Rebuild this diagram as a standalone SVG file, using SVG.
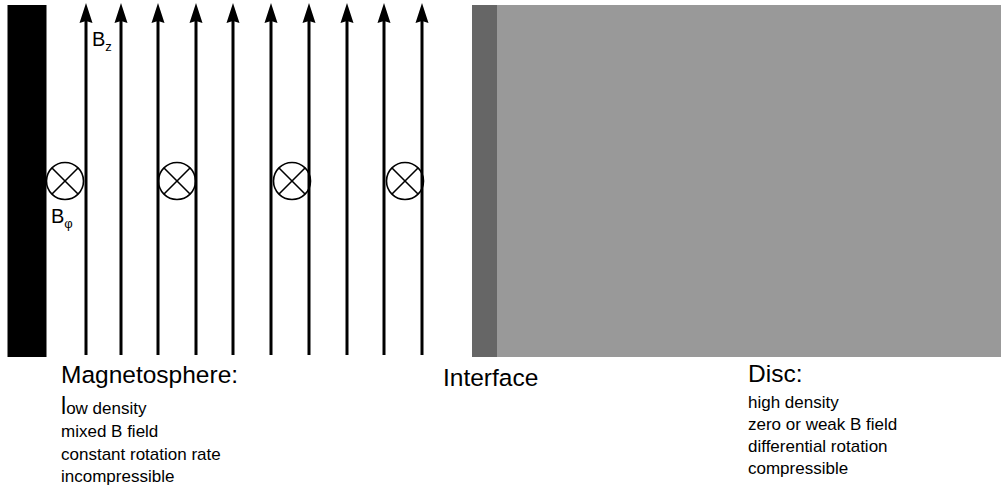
<svg xmlns="http://www.w3.org/2000/svg" width="1001" height="487" viewBox="0 0 1001 487">
  <style>
    text { font-family: "Liberation Sans", Arial, sans-serif; fill: #000; }
    .field { stroke: #000; stroke-width: 3; fill: none; marker-end: url(#head); }
    .toroidal { stroke: #000; stroke-width: 1.6; fill: none; }
    .title { font-size: 24.5px; }
    .item { font-size: 17px; }
    .sym { font-size: 20px; }
    .sub { font-size: 13px; }
  </style>
  <defs>
    <!-- arrowhead drawn along +x; the path's end sits at the notch -->
    <marker id="head" markerUnits="userSpaceOnUse" markerWidth="22" markerHeight="16" viewBox="0 0 22 16" refX="2" refY="8" orient="auto">
      <polygon points="0,1.5 20,8 0,14.5 2,8" fill="#000"/>
    </marker>
    <g id="crossed">
      <circle r="18.5" fill="#fff"/>
      <line x1="-13" y1="-13" x2="13" y2="13"/>
      <line x1="13" y1="-13" x2="-13" y2="13"/>
    </g>
  </defs>

  <rect width="1001" height="487" fill="#fff"/>

  <!-- central star surface -->
  <g id="star">
    <rect x="7.5" y="5" width="39" height="352" fill="#000"/>
  </g>

  <!-- interface layer and accretion disc -->
  <g id="interface">
    <rect x="472" y="5" width="25" height="352" fill="#666"/>
  </g>
  <g id="disc">
    <rect x="497" y="5" width="504" height="352" fill="#999"/>
  </g>

  <!-- toroidal field (into the page) -->
  <g id="toroidal-field" class="toroidal">
    <use href="#crossed" x="65" y="181"/>
    <use href="#crossed" x="177" y="181"/>
    <use href="#crossed" x="292" y="181"/>
    <use href="#crossed" x="405" y="181"/>
  </g>

  <!-- vertical poloidal field lines -->
  <g id="connectors">
    <path class="field" d="M86,355 V21"/>
    <path class="field" d="M121,355 V21"/>
    <path class="field" d="M158,355 V21"/>
    <path class="field" d="M196,355 V21"/>
    <path class="field" d="M233,355 V21"/>
    <path class="field" d="M271,355 V21"/>
    <path class="field" d="M309,355 V21"/>
    <path class="field" d="M347,355 V21"/>
    <path class="field" d="M384,355 V21"/>
    <path class="field" d="M422,355 V21"/>
  </g>

  <!-- field labels -->
  <g id="labels">
    <text class="sym" x="92" y="46">B<tspan class="sub" dy="5">z</tspan></text>
    <text class="sym" x="51" y="223">B<tspan class="sub" dy="5">φ</tspan></text>
  </g>

  <!-- region descriptions -->
  <g id="magnetosphere-text">
    <text class="title" x="61" y="383">Magnetosphere:</text>
    <text class="item" x="61" y="414"><tspan font-size="23px">l</tspan>ow density</text>
    <text class="item" x="61" y="437">mixed B field</text>
    <text class="item" x="61" y="460">constant rotation rate</text>
    <text class="item" x="61" y="482">incompressible</text>
  </g>
  <g id="interface-text">
    <text class="title" x="443" y="386">Interface</text>
  </g>
  <g id="disc-text">
    <text class="title" x="748" y="382">Disc:</text>
    <text class="item" x="748" y="408">high density</text>
    <text class="item" x="748" y="430">zero or weak B field</text>
    <text class="item" x="748" y="452">differential rotation</text>
    <text class="item" x="748" y="474">compressible</text>
  </g>
</svg>
